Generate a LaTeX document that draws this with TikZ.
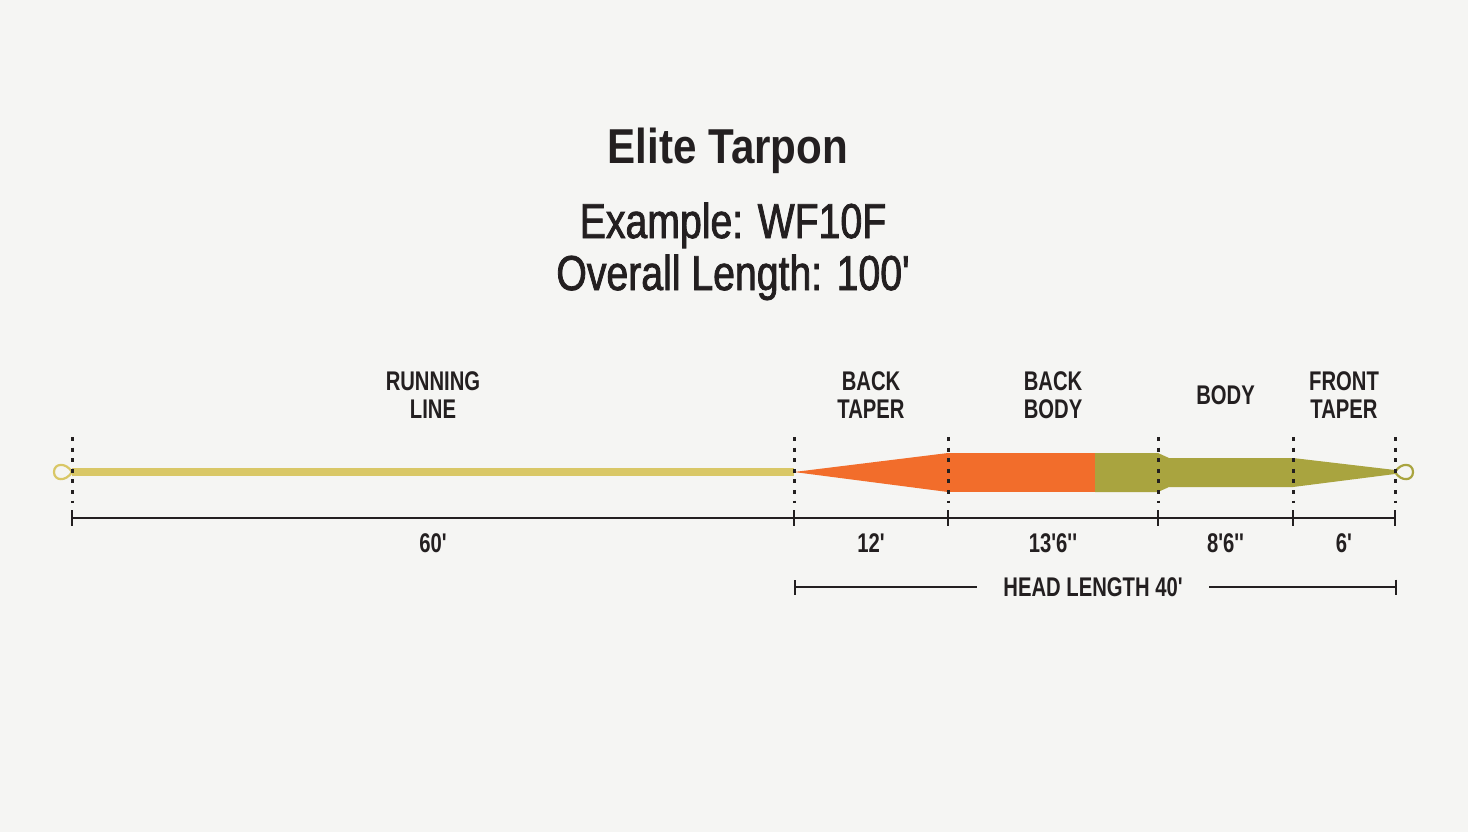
\documentclass[tikz,border=0pt]{standalone}
\usepackage{fontspec}
\newfontfamily\titlefont{Liberation Sans}[FakeStretch=0.86]
\newfontfamily\subfont{Liberation Sans}[FakeStretch=0.8, FakeBold=1.6]
\newfontfamily\capfont{Liberation Sans}[FakeStretch=0.75]
\usetikzlibrary{arrows.meta,calc,positioning}
\definecolor{LineInk}{HTML}{231F20}
\definecolor{LinePaper}{HTML}{F5F5F3}
\definecolor{LineYellow}{HTML}{D9C766}
\definecolor{LineOrange}{HTML}{F26D2B}
\definecolor{LineOlive}{HTML}{A9A43F}
\tikzset{
  every node/.style={text=LineInk, inner sep=0pt},
  titletext/.style={font=\titlefont\bfseries\fontsize{24.5}{28}\selectfont, anchor=base},
  subtext/.style={font=\subfont\fontsize{24.5}{28}\selectfont, anchor=base},
  partname/.style={font=\capfont\bfseries\fontsize{13.5}{14}\selectfont, align=center, anchor=base},
  partlength/.style={font=\capfont\bfseries\fontsize{13.5}{14}\selectfont, anchor=base},
  running/.style={draw=LineYellow, line width=3.6pt},
  eyelet/.style={line width=1.1pt},
  guide/.style={draw=LineInk, line width=1.5pt, dash pattern=on 2pt off 3.3pt},
  dimension/.style={draw=LineInk, line width=1.2pt},
  headline/.style={draw=LineInk, line width=1.2pt, {Bar[width=7.5pt]}-},
}

\begin{document}
\begin{tikzpicture}[x=0.5pt,y=-0.5pt]
  % Page
  \fill[LinePaper] (0,0) rectangle (1468,832);
  \useasboundingbox (0,0) rectangle (1468,832);
  % Titles
  \node[titletext] (title) at (728,163) {Elite Tarpon};
  \node[subtext] (example) at (733,238) {Example: WF10F};
  \node[subtext] (overall) at (733,290) {Overall Length: 100'};
  % Section boundaries on the line
  \coordinate (b0) at (72,472);
  \coordinate (b1) at (794,472);
  \coordinate (b2) at (948,472);
  \coordinate (b3) at (1158,472);
  \coordinate (b4) at (1293,472);
  \coordinate (b5) at (1395,472);
  % Running line and its loop
  \draw[running] (b0) -- (b1);
  \draw[LineYellow, eyelet] (b0) .. controls +(-6,-10) and +(0,-9) .. ++(-18,0)
    .. controls +(0,9) and +(-6,10) .. (b0);
  % Back taper
  \fill[LineOrange] (b1) -- (948,453) -- (948,492) -- cycle;
  % Back body, orange then olive
  \fill[LineOrange] (948,453) rectangle (1095,492);
  \fill[LineOlive] (1095,453) -- (1158,453) -- (1169,458) -- (1293,458)
    -- (1293,487) -- (1169,487) -- (1158,492) -- (1095,492) -- cycle;
  % Front taper and its loop
  \fill[LineOlive] (1293,458) -- (1395,470) -- (1395,474) -- (1293,487) -- cycle;
  \draw[LineOlive, eyelet] (b5) .. controls +(6,-10) and +(0,-9) .. ++(18,0)
    .. controls +(0,9) and +(6,10) .. (b5);
  % Guides through the boundaries
  \foreach \i in {0,...,5}
    \draw[guide] ([yshift=17.5pt]b\i) -- ([yshift=-15.5pt]b\i);
  % Section names
  \node[partname] (runname) at ($(b0)!0.5!(b1)+(0,-54)$) {RUNNING\\LINE};
  \node[partname] (taperback) at ($(b1)!0.5!(b2)+(0,-54)$) {BACK\\TAPER};
  \node[partname] (bodyback) at ($(b2)!0.5!(b3)+(0,-54)$) {BACK\\BODY};
  \node[partname] (body) at ($(b3)!0.5!(b4)+(0,-68)$) {BODY};
  \node[partname] (taperfront) at ($(b4)!0.5!(b5)+(0,-54)$) {FRONT\\TAPER};
  % Lengths
  \coordinate (d0) at (72,518);
  \coordinate (d5) at (1395,518);
  \draw[dimension] (d0) -- (d5);
  \foreach \i in {0,...,5}
    \draw[dimension] ([yshift=-23pt]b\i) ++(0,-8) -- ++(0,16);
  \node[partlength] (runlen) at ($(b0)!0.5!(b1)+(0,80)$) {60'};
  \node[partlength] (taperbacklen) at ($(b1)!0.5!(b2)+(0,80)$) {12'};
  \node[partlength] (bodybacklen) at ($(b2)!0.5!(b3)+(0,80)$) {13'6''};
  \node[partlength] (bodylen) at ($(b3)!0.5!(b4)+(0,80)$) {8'6''};
  \node[partlength] (taperfrontlen) at ($(b4)!0.5!(b5)+(0,80)$) {6'};
  % Head length
  \coordinate (h0) at (794,587);
  \coordinate (h1) at (1397,587);
  \node[partlength, anchor=center, inner xsep=13pt] (head) at (1093,587) {HEAD LENGTH 40'};
  \draw[headline] (h0) -- (head);
  \draw[headline] (h1) -- (head);
\end{tikzpicture}
\end{document}
